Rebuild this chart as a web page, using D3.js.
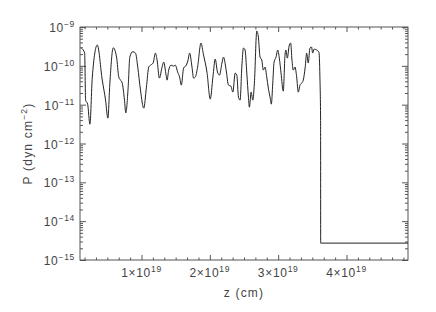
<!DOCTYPE html>
<html>
<head>
<meta charset="utf-8">
<script src="https://cdn.jsdelivr.net/npm/d3@7/dist/d3.min.js"></script>
<style>
  body { margin: 0; background: #fff; }
  text { font-family: "Liberation Sans", Arial, sans-serif; fill: #444; letter-spacing: 0.7px; }
</style>
</head>
<body>
<svg id="chart" width="436" height="312"></svg>
<script>
// z in units of 1e19 cm, P in dyn cm^-2
const zValues = [
  0.120, 0.168, 0.182, 0.212, 0.245, 0.280, 0.353, 0.426, 0.474, 0.508,
  0.537, 0.586, 0.635, 0.668, 0.718, 0.751, 0.770, 0.805, 0.829, 0.872,
  0.912, 0.945, 0.985, 1.033, 1.072, 1.106, 1.131, 1.170, 1.204, 1.228,
  1.262, 1.301, 1.325, 1.360, 1.374, 1.398, 1.433, 1.470, 1.495, 1.529,
  1.558, 1.583, 1.616, 1.656, 1.681, 1.704, 1.739, 1.762, 1.787, 1.821,
  1.870, 1.908, 1.958, 2.006, 2.045, 2.079, 2.112, 2.142, 2.177, 2.200,
  2.239, 2.273, 2.308, 2.337, 2.371, 2.395, 2.419, 2.443, 2.468, 2.492,
  2.516, 2.541, 2.565, 2.579, 2.604, 2.629, 2.652, 2.687, 2.710, 2.735,
  2.760, 2.783, 2.808, 2.833, 2.856, 2.881, 2.900, 2.921, 2.940, 2.969,
  2.993, 3.017, 3.042, 3.075, 3.100, 3.114, 3.134, 3.163, 3.183, 3.202,
  3.221, 3.246, 3.271, 3.294, 3.319, 3.344, 3.367, 3.396, 3.417, 3.440,
  3.465, 3.489, 3.504, 3.527, 3.562, 3.596, 3.611, 3.621, 3.622, 4.900
];
const pValues = [
  2.87e-10, 2.13e-10, 1.31e-11, 1.03e-11, 3.14e-12, 5.13e-11, 3.43e-10, 4.28e-11, 1.31e-11, 4.49e-12,
  3.59e-11, 2.92e-10, 1.68e-10, 5.13e-11, 3.59e-11, 1.31e-11, 6.14e-12, 2.83e-11, 1.68e-10, 2.31e-10,
  2.13e-10, 9.29e-11, 2.37e-11, 8.13e-12, 2.83e-11, 9.29e-11, 1.04e-10, 1.18e-10, 2.13e-10, 1.41e-10,
  4.83e-11, 9.29e-11, 1.25e-10, 5.77e-11, 4.28e-11, 7.76e-11, 1.04e-10, 9.86e-11, 1.04e-10, 6.90e-11,
  5.13e-11, 3.18e-11, 8.75e-11, 1.04e-10, 1.41e-10, 2.13e-10, 9.29e-11, 4.83e-11, 5.13e-11, 9.29e-11,
  3.86e-10, 1.89e-10, 6.90e-11, 1.39e-11, 5.13e-11, 1.49e-10, 6.90e-11, 5.77e-11, 1.18e-10, 1.68e-10,
  7.76e-11, 3.18e-11, 3.00e-11, 2.10e-11, 6.50e-11, 5.77e-11, 1.56e-11, 1.31e-11, 9.29e-11, 2.87e-10,
  2.55e-10, 6.50e-11, 1.56e-11, 8.61e-12, 2.10e-11, 1.31e-11, 3.59e-11, 7.88e-10, 5.52e-10, 1.68e-10,
  1.41e-10, 7.76e-11, 9.29e-11, 5.13e-11, 2.67e-11, 1.56e-11, 1.03e-11, 3.59e-11, 1.25e-10, 1.68e-10,
  2.55e-10, 1.58e-10, 6.50e-11, 2.23e-11, 1.89e-10, 2.55e-10, 1.58e-10, 3.43e-10, 3.86e-10, 1.41e-10,
  7.76e-11, 9.29e-11, 5.13e-11, 2.10e-11, 3.18e-11, 3.59e-11, 4.28e-11, 9.29e-11, 2.13e-10, 1.18e-10,
  2.87e-10, 3.05e-10, 2.13e-10, 2.70e-10, 2.55e-10, 2.27e-10, 5.13e-11, 3.98e-12, 2.72e-15, 2.72e-15
];

const xMajorTicks = [1, 2, 3, 4];
const xTickLabels = ["1×10", "2×10", "3×10", "4×10"];
const xTickExp = "19";
const yMajorExps = [-15, -14, -13, -12, -11, -10, -9];

const data = zValues.map((z, i) => ({ z: z, p: pValues[i] }));

const svg = d3.select("#chart");
const margin = { top: 27, right: 28, bottom: 52, left: 80 };
const width = 436;
const height = 312;
const x0 = margin.left, x1 = width - margin.right;
const y0 = height - margin.bottom, y1 = margin.top;

const x = d3.scaleLinear().domain([0.1, 4.9]).range([x0, x1]);
const y = d3.scaleLog().domain([1e-15, 1e-9]).range([y0, y1]);

// minor ticks
const xMinor = d3.range(1, 30).map(i => i / 6).filter(v => v > 0.1 && v < 4.9 && Math.abs(v - Math.round(v)) > 1e-6);
const yMajor = yMajorExps.map(e => Math.pow(10, e));
const yMinor = [];
yMajorExps.slice(0, -1).forEach(e => {
  for (let k = 2; k <= 9; k++) yMinor.push(k * Math.pow(10, e));
});

const axisColor = "#555";

function styleAxis(g) {
  g.select(".domain").remove();
  g.selectAll("line").attr("stroke", axisColor);
  g.selectAll("text").remove();
}

// x axes (ticks pointing inward)
svg.append("g").attr("transform", `translate(0,${y0})`)
  .call(d3.axisBottom(x).tickValues(xMajorTicks).tickSize(-5).tickFormat("")).call(styleAxis);
svg.append("g").attr("transform", `translate(0,${y0})`)
  .call(d3.axisBottom(x).tickValues(xMinor).tickSize(-2.5).tickFormat("")).call(styleAxis);
svg.append("g").attr("transform", `translate(0,${y1})`)
  .call(d3.axisTop(x).tickValues(xMajorTicks).tickSize(-5).tickFormat("")).call(styleAxis);
svg.append("g").attr("transform", `translate(0,${y1})`)
  .call(d3.axisTop(x).tickValues(xMinor).tickSize(-2.5).tickFormat("")).call(styleAxis);

// y axes
svg.append("g").attr("transform", `translate(${x0},0)`)
  .call(d3.axisLeft(y).tickValues(yMajor).tickSize(-6).tickFormat("")).call(styleAxis);
svg.append("g").attr("transform", `translate(${x0},0)`)
  .call(d3.axisLeft(y).tickValues(yMinor).tickSize(-3).tickFormat("")).call(styleAxis);
svg.append("g").attr("transform", `translate(${x1},0)`)
  .call(d3.axisRight(y).tickValues(yMajor).tickSize(-6).tickFormat("")).call(styleAxis);
svg.append("g").attr("transform", `translate(${x1},0)`)
  .call(d3.axisRight(y).tickValues(yMinor).tickSize(-3).tickFormat("")).call(styleAxis);

// frame
svg.append("rect")
  .attr("x", x0).attr("y", y1)
  .attr("width", x1 - x0).attr("height", y0 - y1)
  .attr("fill", "none").attr("stroke", axisColor).attr("stroke-width", 1);

// y tick labels
yMajorExps.forEach(e => {
  const t = svg.append("text")
    .attr("x", x0 - 5).attr("y", y(Math.pow(10, e)) + 5)
    .attr("text-anchor", "end").attr("font-size", 12);
  t.append("tspan").text("10");
  t.append("tspan").attr("dy", -5).attr("font-size", 8.5).text("−" + Math.abs(e));
});

// x tick labels
xMajorTicks.forEach((v, i) => {
  const t = svg.append("text")
    .attr("x", x(v)).attr("y", 277)
    .attr("text-anchor", "middle").attr("font-size", 12);
  t.append("tspan").text(xTickLabels[i]);
  t.append("tspan").attr("dy", -5).attr("font-size", 8.5).text(xTickExp);
});

// axis titles
svg.append("text")
  .attr("x", (x0 + x1) / 2).attr("y", 297)
  .attr("text-anchor", "middle").attr("font-size", 12)
  .style("letter-spacing", "1.2px")
  .text("z (cm)");

const yt = svg.append("text")
  .attr("transform", `translate(32,${(y0 + y1) / 2}) rotate(-90)`)
  .attr("text-anchor", "middle").attr("font-size", 12)
  .style("letter-spacing", "1.2px");
yt.append("tspan").text("P (dyn cm");
yt.append("tspan").attr("dy", -5).attr("font-size", 8.5).text("−2");
yt.append("tspan").attr("dy", 5).text(")");

// curve
const line = d3.line()
  .curve(d3.curveMonotoneX)
  .x(d => x(d.z))
  .y(d => y(d.p));

svg.append("path")
  .datum(data)
  .attr("fill", "none")
  .attr("stroke", "#222")
  .attr("stroke-width", 1)
  .attr("d", line);
</script>
</body>
</html>
